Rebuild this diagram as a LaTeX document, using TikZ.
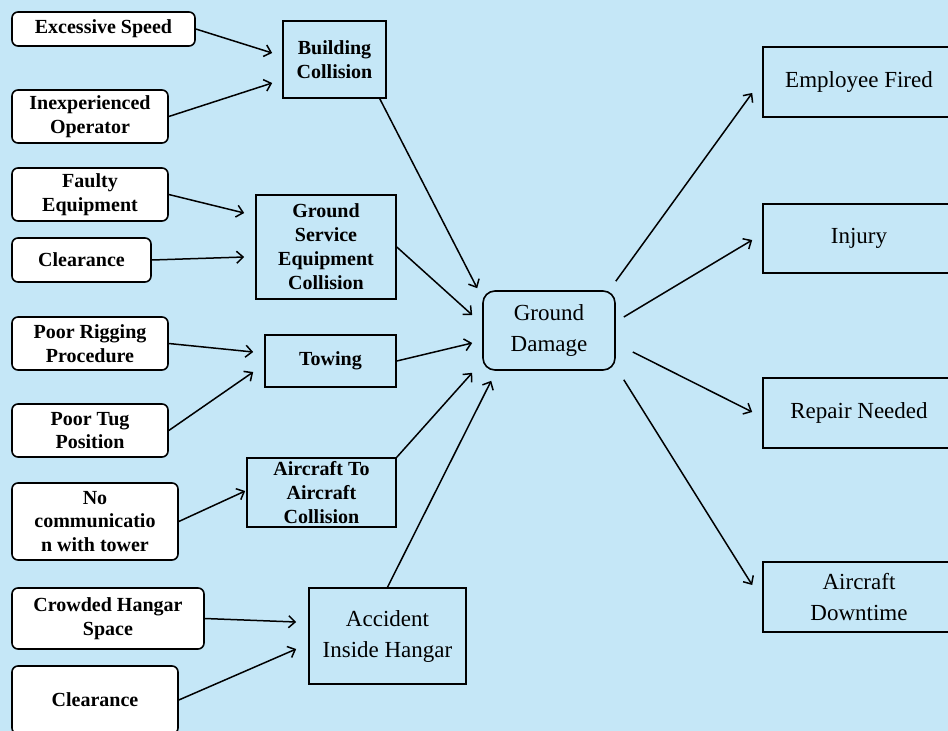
\documentclass[tikz,border=0pt]{standalone}
\usepackage{fontspec}
\setmainfont{Liberation Serif}
\usetikzlibrary{calc,arrows.meta}
\definecolor{bg}{RGB}{197,231,247}
\tikzset{
  cause/.style={draw=black, line width=1.6pt, fill=white, rounded corners=6pt, inner sep=0pt, align=center, font=\fontsize{20}{23.5}\selectfont\bfseries},
  mid/.style={draw=black, line width=1.6pt, inner sep=0pt, align=center, font=\fontsize{20}{24}\selectfont\bfseries},
  big/.style={draw=black, line width=1.6pt, inner sep=0pt, align=center, font=\fontsize{23}{31}\selectfont},
  arr/.style={line width=1.5pt, -{Straight Barb[length=6.5pt,width=12pt]}}
}
\begin{document}
\begin{tikzpicture}[x=1pt,y=-1pt]
\useasboundingbox (0,0) rectangle (948,731);
\clip (0,0) rectangle (948,731);
\fill[bg] (0,0) rectangle (948,731);
% causes
\node[cause, minimum width=183pt, minimum height=34pt] (es) at (103.5,29) {Excessive Speed};
\node[cause, minimum width=156pt, minimum height=53pt] (io) at (90,116.5) {Inexperienced\\Operator};
\node[cause, minimum width=156pt, minimum height=53pt] (fe) at (90,194.5) {Faulty\\Equipment};
\node[cause, minimum width=139pt, minimum height=44pt] (cla) at (81.5,260) {Clearance};
\node[cause, minimum width=156pt, minimum height=53pt] (pr) at (90,343.5) {Poor Rigging\\Procedure};
\node[cause, minimum width=156pt, minimum height=53pt] (pt) at (90,430.5) {Poor Tug\\Position};
\node[cause, minimum width=166pt, minimum height=77pt] (nc) at (95,521.5) {No\\communicatio\\n with tower};
\node[cause, minimum width=192pt, minimum height=61pt] (ch) at (108,618.5) {Crowded Hangar\\Space};
\node[cause, minimum width=166pt, minimum height=68pt] (clb) at (95,700) {Clearance};
% intermediate
\node[mid, minimum width=103pt, minimum height=77pt] (bc) at (334.5,59.5) {Building\\Collision};
\node[mid, minimum width=140pt, minimum height=104pt] (gse) at (326,247) {Ground\\Service\\Equipment\\Collision};
\node[mid, minimum width=131pt, minimum height=52pt] (tow) at (330.5,361) {Towing};
\node[mid, minimum width=149pt, minimum height=69pt] (aa) at (321.5,492.5) {Aircraft To\\Aircraft\\Collision};
\node[big, minimum width=157pt, minimum height=96pt] (aih) at (387.5,636) {Accident\\Inside Hangar};
% center
\node[big, rounded corners=12pt, minimum width=132pt, minimum height=79pt] (gd) at (549,330.5) {Ground\\Damage};
% effects
\node[big, minimum width=192pt, minimum height=70pt] (ef) at (859,82) {Employee Fired};
\node[big, minimum width=192pt, minimum height=69pt] (inj) at (859,238.5) {Injury};
\node[big, minimum width=192pt, minimum height=70pt] (rn) at (859,413) {Repair Needed};
\node[big, minimum width=192pt, minimum height=70pt] (adt) at (859,597) {Aircraft\\Downtime};
% connectors
\draw[arr] (es.east) -- ($(bc.west)+(-10,-6.5)$);
\draw[arr] (io.east) -- ($(bc.west)+(-10,23.5)$);
\draw[arr] ($(bc.south east)+(-7,0)$) -- ($(gd.north west)+(-5,-2)$);
\draw[arr] (fe.east) -- ($(gse.west)+(-11,-34)$);
\draw[arr] (cla.east) -- ($(gse.west)+(-11,10)$);
\draw[arr] (gse.east) -- ($(gd.west)+(-10,-15.5)$);
\draw[arr] (pr.east) -- ($(tow.west)+(-11,-9)$);
\draw[arr] (pt.east) -- ($(tow.west)+(-11,11)$);
\draw[arr] (tow.east) -- ($(gd.west)+(-10,12.5)$);
\draw[arr] (nc.east) -- ($(aa.west)+(-1,-1.5)$);
\draw[arr] (aa.north east) -- ($(gd.south west)+(-10,2)$);
\draw[arr] (aih.north) -- ($(gd.south west)+(9,10)$);
\draw[arr] (ch.east) -- ($(aih.west)+(-12,-14)$);
\draw[arr] (clb.east) -- ($(aih.west)+(-12,13)$);
\draw[arr] ($(gd.north east)+(0,-9)$) -- ($(ef.west)+(-10,11)$);
\draw[arr] ($(gd.east)+(8,-13.5)$) -- ($(inj.west)+(-10,1.5)$);
\draw[arr] ($(gd.east)+(17,21.5)$) -- ($(rn.west)+(-10,-1)$);
\draw[arr] ($(gd.south east)+(8,9)$) -- ($(adt.west)+(-10,-12)$);
\end{tikzpicture}
\end{document}
